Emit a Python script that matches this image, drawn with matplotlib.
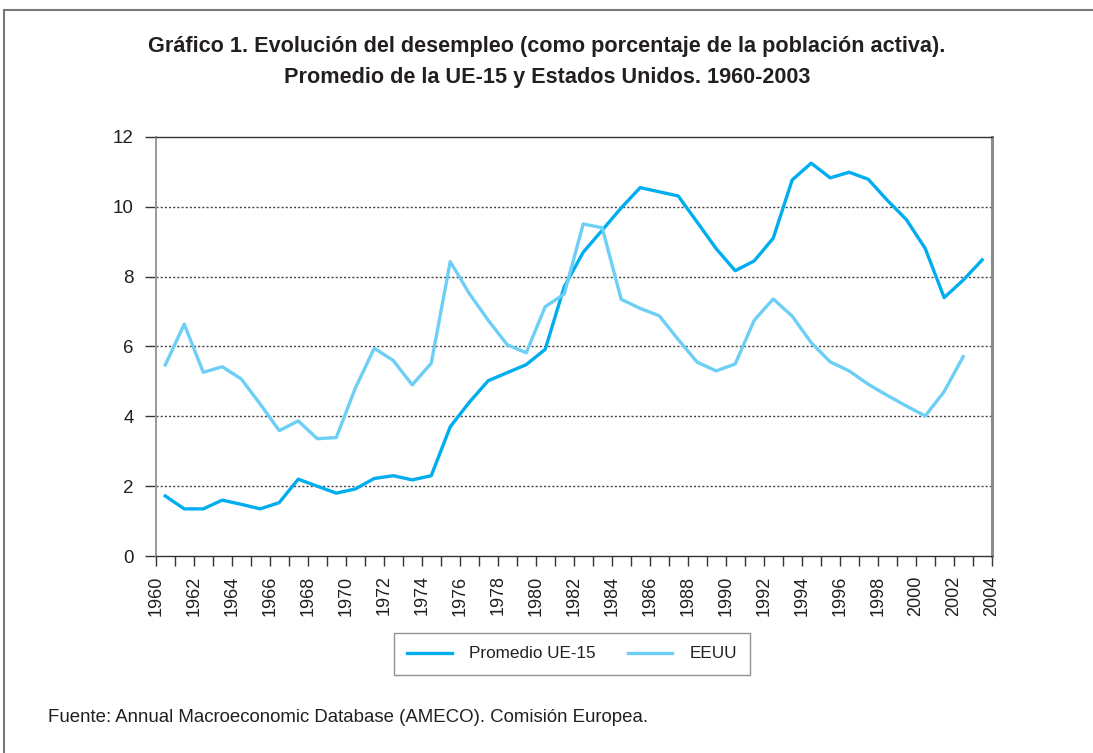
import numpy as np
import matplotlib
matplotlib.use("Agg")
from matplotlib import pyplot as plt
from matplotlib.patches import Rectangle

plt.rcParams['font.family'] = ['Liberation Sans', 'DejaVu Sans']

# Unemployment rate (% of active population)
years = np.arange(1960, 2004)
ue15 = [1.72, 1.35, 1.35, 1.60, 1.48, 1.35, 1.53, 2.20, 2.00, 1.80,
        1.92, 2.22, 2.30, 2.18, 2.30, 3.70, 4.40, 5.02, 5.25, 5.48,
        5.92, 7.71, 8.70, 9.33, 9.97, 10.55, 10.43, 10.31, 9.56, 8.80,
        8.17, 8.45, 9.10, 10.77, 11.25, 10.83, 10.99, 10.79, 10.19, 9.64,
        8.81, 7.40, 7.90, 8.48]
eeuu = [5.47, 6.64, 5.26, 5.42, 5.07, 4.35, 3.59, 3.87, 3.36, 3.39,
        4.80, 5.95, 5.60, 4.90, 5.52, 8.43, 7.52, 6.75, 6.05, 5.82,
        7.14, 7.50, 9.51, 9.40, 7.35, 7.09, 6.88, 6.20, 5.55, 5.30,
        5.50, 6.75, 7.36, 6.87, 6.11, 5.56, 5.30, 4.92, 4.60, 4.30,
        4.01, 4.71, 5.71]

title = ('Gráfico 1. Evolución del desempleo (como porcentaje de la población activa).\n'
         'Promedio de la UE-15 y Estados Unidos. 1960-2003')
fuente = 'Fuente: Annual Macroeconomic Database (AMECO). Comisión Europea.'

fig = plt.figure(figsize=(10.93, 7.53), dpi=100)
ax = fig.add_axes([0.1425, 0.2616, 0.7648, 0.5565])

# points sit in the middle of each year slot
ax.plot(years + 0.5, ue15, color='#00aeef', lw=2.4, label='Promedio UE-15')
ax.plot(years[:len(eeuu)] + 0.5, eeuu, color='#6dcff6', lw=2.4, label='EEUU')

ax.set_xlim(1960, 2004)
ax.set_ylim(0, 12)
ax.set_yticks(np.arange(0, 13, 2))
ax.set_xticks(np.arange(1960, 2005, 2))
ax.set_xticks(np.arange(1960, 2005, 1), minor=True)
ax.tick_params(axis='x', which='both', length=7, width=1, color='#333333',
               labelsize=13, pad=7, labelrotation=90)
ax.tick_params(axis='y', length=8, width=1, color='#333333', labelsize=13.5, pad=8)
for lbl in ax.get_xticklabels() + ax.get_yticklabels():
    lbl.set_color('#231f20')

for y in range(2, 12, 2):
    ax.axhline(y, color='#444444', lw=1, ls=(0, (1.5, 1.5)), zorder=0)

ax.spines['left'].set_color('#999999')
ax.spines['left'].set_linewidth(1.4)
ax.spines['right'].set_color('#8c8c8c')
ax.spines['right'].set_linewidth(2.2)
ax.spines['top'].set_color('#333333')
ax.spines['top'].set_linewidth(1)
ax.spines['bottom'].set_color('#333333')
ax.spines['bottom'].set_linewidth(1)

leg = fig.legend(loc='center', bbox_to_anchor=(572 / 1093, 1 - 654 / 753), ncol=2,
                 fontsize=12.3, frameon=True, fancybox=False, handlelength=2.6,
                 columnspacing=1.9, handletextpad=1.0, borderpad=0.8, borderaxespad=0)
leg.get_frame().set_edgecolor('#777777')
leg.get_frame().set_linewidth(1)
for t in leg.get_texts():
    t.set_color('#231f20')

fig.text(547 / 1093, 1 - 62 / 753, title, ha='center', va='center', fontsize=15.6,
         fontweight='bold', color='#231f20', linespacing=1.62)
fig.text(48 / 1093, 1 - 717 / 753, fuente, ha='left', va='center', fontsize=13.4,
         color='#231f20')

# outer frame (only top and left edges inside the picture)
fig.patches.append(Rectangle((4 / 1093, -0.1), 1.2, 1.1 - 10 / 753,
                             transform=fig.transFigure, fill=False,
                             edgecolor='#777777', lw=1.5))

plt.savefig('out.png', dpi=100)
